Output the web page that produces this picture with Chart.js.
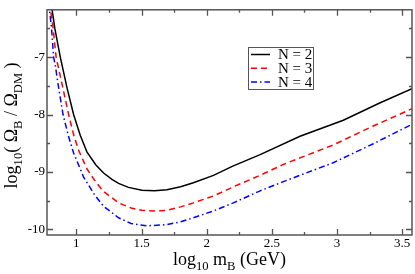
<!DOCTYPE html>
<html><head><meta charset="utf-8">
<script src="https://cdn.jsdelivr.net/npm/chart.js@4.4.0/dist/chart.umd.min.js"></script>
<style>html,body{margin:0;padding:0;background:#fff}#wrap{width:415px;height:274px;position:relative}</style>
</head><body><div id="wrap"><canvas id="c" width="415" height="274"></canvas></div>
<script>
const seriesLabels = ['N = 2', 'N = 3', 'N = 4'];
const seriesColors = ['#000000', '#ff0000', '#0000ff'];

const n2X = [0.805, 0.835, 0.877, 0.93, 0.979, 1.03, 1.081, 1.15, 1.209, 1.273, 1.324, 1.40, 1.503, 1.60, 1.695, 1.80, 1.898, 2.052, 2.2, 2.41, 2.716, 3.048, 3.327, 3.575];
const n2Y = [-6.03, -6.5, -7.0, -7.55, -8.0, -8.36, -8.65, -8.88, -9.02, -9.13, -9.20, -9.27, -9.32, -9.33, -9.31, -9.26, -9.19, -9.06, -8.90, -8.70, -8.38, -8.10, -7.80, -7.55];

const n3X = [0.795, 0.822, 0.845, 0.877, 0.941, 0.979, 1.017, 1.082, 1.15, 1.209, 1.324, 1.42, 1.503, 1.60, 1.695, 1.80, 1.898, 2.052, 2.205, 2.41, 2.588, 2.971, 3.278, 3.575];
const n3Y = [-6.05, -6.5, -7.0, -7.33, -8.0, -8.35, -8.62, -8.95, -9.18, -9.34, -9.54, -9.63, -9.67, -9.68, -9.67, -9.61, -9.54, -9.42, -9.26, -9.06, -8.87, -8.53, -8.20, -7.90];

const n4X = [0.788, 0.81, 0.826, 0.839, 0.860, 0.898, 0.94, 0.979, 1.056, 1.14, 1.209, 1.324, 1.42, 1.541, 1.695, 1.80, 1.898, 2.052, 2.205, 2.41, 2.588, 2.971, 3.278, 3.575];
const n4Y = [-6.05, -6.5, -7.0, -7.15, -7.47, -8.0, -8.38, -8.67, -9.09, -9.40, -9.60, -9.80, -9.90, -9.94, -9.92, -9.87, -9.80, -9.68, -9.54, -9.33, -9.17, -8.84, -8.51, -8.17];

const xTicks = [1, 1.5, 2, 2.5, 3, 3.5];
const xMinorTicks = [1.25, 1.75, 2.25, 2.75, 3.25];
const yTicks = [-10, -9, -8, -7];
const yMinorTicks = [-9.5, -8.5, -7.5, -6.5];

const SERIF = '"Liberation Serif", "DejaVu Serif", serif';

function pts(xs, ys) { return xs.map((x, i) => ({ x: x, y: ys[i] })); }

function drawRich(ctx, segs, size) {
  let w = 0;
  const items = segs.map(s => {
    const fs = s.sub ? size * 0.7 : size;
    ctx.font = fs + 'px ' + SERIF;
    const mw = ctx.measureText(s.t).width;
    const it = { t: s.t, fs: fs, dy: s.sub ? size * 0.3 : 0, w: mw };
    w += mw;
    return it;
  });
  return { width: w, draw: (x0, y0) => {
    let x = x0;
    items.forEach(it => {
      ctx.font = it.fs + 'px ' + SERIF;
      ctx.fillText(it.t, x, y0 + it.dy);
      x += it.w;
    });
  }};
}

const framePlugin = {
  id: 'frame',
  afterDatasetsDraw(chart) {
    const ctx = chart.ctx, a = chart.chartArea;
    const xs = chart.scales.x, ys = chart.scales.y;
    ctx.save();
    ctx.strokeStyle = '#555';
    ctx.lineWidth = 1.3;
    ctx.beginPath();
    const major = 6, minor = 3;
    xTicks.forEach(v => { const p = Math.round(xs.getPixelForValue(v)) + 0.5;
      ctx.moveTo(p, a.bottom); ctx.lineTo(p, a.bottom - major);
      ctx.moveTo(p, a.top); ctx.lineTo(p, a.top + major); });
    xMinorTicks.forEach(v => { const p = Math.round(xs.getPixelForValue(v)) + 0.5;
      ctx.moveTo(p, a.bottom); ctx.lineTo(p, a.bottom - minor);
      ctx.moveTo(p, a.top); ctx.lineTo(p, a.top + minor); });
    yTicks.forEach(v => { const p = Math.round(ys.getPixelForValue(v)) + 0.5;
      ctx.moveTo(a.left, p); ctx.lineTo(a.left + major, p);
      ctx.moveTo(a.right, p); ctx.lineTo(a.right - major, p); });
    yMinorTicks.forEach(v => { const p = Math.round(ys.getPixelForValue(v)) + 0.5;
      ctx.moveTo(a.left, p); ctx.lineTo(a.left + minor, p);
      ctx.moveTo(a.right, p); ctx.lineTo(a.right - minor, p); });
    ctx.stroke();
    ctx.lineWidth = 1.5;
    ctx.strokeRect(a.left, a.top, a.right - a.left, a.bottom - a.top);
    ctx.restore();
  }
};

const titlePlugin = {
  id: 'titles',
  afterDraw(chart) {
    const ctx = chart.ctx, a = chart.chartArea;
    ctx.save();
    ctx.fillStyle = '#000';
    ctx.textBaseline = 'alphabetic';
    ctx.textAlign = 'left';
    const xt = drawRich(ctx, [{t:'log'},{t:'10',sub:true},{t:' m'},{t:'B',sub:true},{t:' (GeV)'}], 18);
    xt.draw((a.left + a.right) / 2 - xt.width / 2, 265);
    ctx.translate(17, (a.top + a.bottom) / 2 + 3);
    ctx.rotate(-Math.PI / 2);
    const yt = drawRich(ctx, [{t:'log'},{t:'10',sub:true},{t:'( \u03A9'},{t:'B',sub:true},{t:' / \u03A9'},{t:'DM',sub:true},{t:' )'}], 18);
    yt.draw(-yt.width / 2, 0);
    ctx.restore();
  }
};

const legendPlugin = {
  id: 'customLegend',
  afterDraw(chart) {
    const ctx = chart.ctx;
    const bx = 248.5, by = 47.5, bw = 65, bh = 42;
    ctx.save();
    ctx.fillStyle = '#fff';
    ctx.fillRect(bx, by, bw, bh);
    ctx.strokeStyle = '#555';
    ctx.lineWidth = 1;
    ctx.strokeRect(bx, by, bw, bh);
    chart.data.datasets.forEach((ds, i) => {
      const y = 54.5 + i * 13.8;
      ctx.strokeStyle = ds.borderColor;
      ctx.lineWidth = ds.borderWidth;
      ctx.setLineDash(ds.borderDash || []);
      ctx.beginPath();
      ctx.moveTo(251, y); ctx.lineTo(270, y);
      ctx.stroke();
      ctx.setLineDash([]);
      ctx.fillStyle = '#000';
      ctx.font = '15px ' + SERIF;
      ctx.textBaseline = 'middle';
      ctx.fillText(ds.label, 278, y + 0.5);
    });
    ctx.restore();
  }
};

const dashes = [[], [6, 4], [6, 3, 1.5, 3]];
const xsArr = [n2X, n3X, n4X], ysArr = [n2Y, n3Y, n4Y];

new Chart(document.getElementById('c').getContext('2d'), {
  type: 'line',
  data: {
    datasets: seriesLabels.map((lab, i) => ({
      label: lab,
      data: pts(xsArr[i], ysArr[i]),
      borderColor: seriesColors[i],
      borderWidth: 1.5,
      borderDash: dashes[i],
      pointRadius: 0,
      tension: 0,
      fill: false,
      clip: 0
    }))
  },
  options: {
    responsive: false,
    animation: false,
    devicePixelRatio: 1,
    layout: { padding: { left: 0, right: 3, top: 3, bottom: 0 } },
    plugins: { legend: { display: false }, tooltip: { enabled: false } },
    scales: {
      x: {
        type: 'linear', min: 0.775, max: 3.575,
        afterBuildTicks: s => { s.ticks = xTicks.map(v => ({ value: v })); },
        afterFit: s => { s.height = 39; },
        ticks: { font: { family: SERIF, size: 13 }, color: '#000', padding: 1, maxRotation: 0, autoSkip: false,
                 callback: v => String(v) },
        grid: { display: false, drawTicks: false },
        border: { display: false }
      },
      y: {
        type: 'linear', min: -10.1, max: -6.175,
        afterBuildTicks: s => { s.ticks = yTicks.map(v => ({ value: v })); },
        afterFit: s => { s.width = 47; },
        ticks: { font: { family: SERIF, size: 13 }, color: '#000', padding: 2, callback: v => String(v) },
        grid: { display: false, drawTicks: false },
        border: { display: false }
      }
    }
  },
  plugins: [framePlugin, titlePlugin, legendPlugin]
});
</script>
</body></html>
